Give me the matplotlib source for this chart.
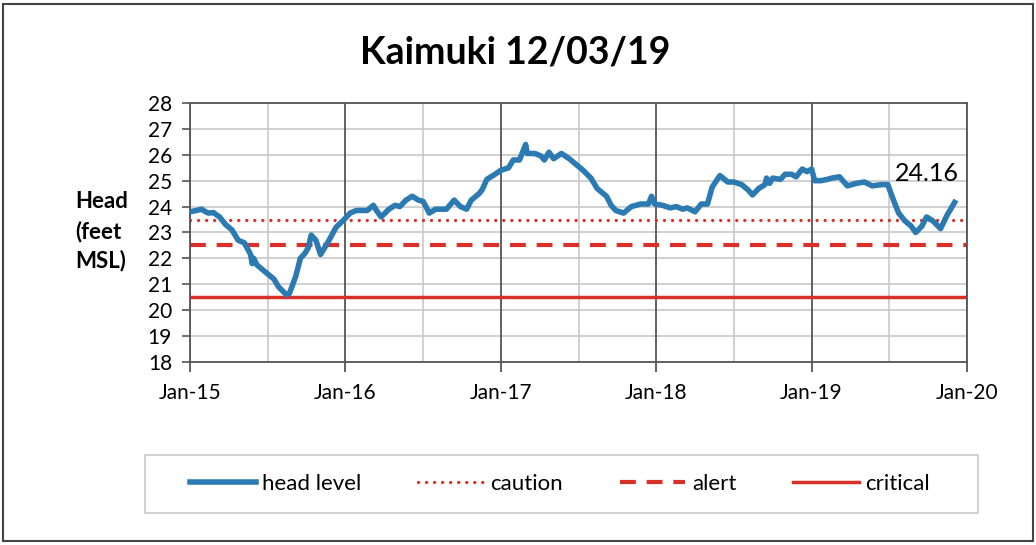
import matplotlib.pyplot as plt
from matplotlib.patches import Rectangle

# head level readings (decimal year, feet MSL)
years = [2015.00, 2015.04, 2015.075, 2015.10, 2015.12, 2015.15, 2015.19, 2015.23, 2015.27, 2015.31,
         2015.35, 2015.39, 2015.40, 2015.41, 2015.43, 2015.47, 2015.52, 2015.54, 2015.57, 2015.62,
         2015.64, 2015.68, 2015.71, 2015.74, 2015.76, 2015.78, 2015.81, 2015.84, 2015.89, 2015.94,
         2016.00, 2016.03, 2016.07, 2016.14, 2016.18, 2016.20, 2016.23, 2016.28, 2016.32, 2016.35,
         2016.39, 2016.43, 2016.47, 2016.50, 2016.54, 2016.58, 2016.65, 2016.70, 2016.74, 2016.78,
         2016.81, 2016.86, 2016.88, 2016.91, 2016.95, 2017.00, 2017.05, 2017.08, 2017.12, 2017.16,
         2017.17, 2017.22, 2017.26, 2017.28, 2017.31, 2017.34, 2017.39, 2017.44, 2017.49, 2017.53,
         2017.58, 2017.62, 2017.68, 2017.71, 2017.74, 2017.79, 2017.84, 2017.90, 2017.95, 2017.97,
         2017.99, 2018.04, 2018.09, 2018.13, 2018.17, 2018.20, 2018.25, 2018.29, 2018.33, 2018.36,
         2018.41, 2018.46, 2018.50, 2018.55, 2018.59, 2018.62, 2018.66, 2018.70, 2018.71, 2018.73,
         2018.75, 2018.80, 2018.83, 2018.87, 2018.90, 2018.94, 2018.97, 2019.00, 2019.02, 2019.06,
         2019.10, 2019.13, 2019.18, 2019.23, 2019.29, 2019.34, 2019.39, 2019.45, 2019.49, 2019.53,
         2019.56, 2019.60, 2019.64, 2019.67, 2019.71, 2019.74, 2019.78, 2019.83, 2019.87, 2019.92]
head = [23.80, 23.85, 23.90, 23.80, 23.75, 23.77, 23.60, 23.30, 23.10, 22.70,
        22.60, 22.15, 21.80, 22.00, 21.75, 21.55, 21.30, 21.20, 20.90, 20.60,
        20.65, 21.30, 22.00, 22.20, 22.40, 22.90, 22.70, 22.15, 22.65, 23.20,
        23.55, 23.75, 23.85, 23.85, 24.05, 23.85, 23.60, 23.90, 24.05, 24.00,
        24.25, 24.40, 24.25, 24.20, 23.75, 23.90, 23.90, 24.25, 24.00, 23.90,
        24.25, 24.50, 24.65, 25.05, 25.20, 25.40, 25.50, 25.80, 25.80, 26.40,
        26.05, 26.05, 25.95, 25.80, 26.10, 25.85, 26.05, 25.85, 25.60, 25.40,
        25.10, 24.70, 24.40, 24.05, 23.85, 23.75, 24.00, 24.10, 24.10, 24.40,
        24.10, 24.05, 23.95, 24.00, 23.90, 23.95, 23.80, 24.10, 24.10, 24.75,
        25.20, 24.95, 24.95, 24.85, 24.65, 24.45, 24.70, 24.85, 25.10, 24.90,
        25.10, 25.05, 25.25, 25.25, 25.15, 25.45, 25.35, 25.45, 25.00, 25.00,
        25.05, 25.10, 25.15, 24.80, 24.90, 24.95, 24.80, 24.85, 24.85, 24.20,
        23.75, 23.45, 23.25, 23.00, 23.25, 23.60, 23.45, 23.15, 23.65, 24.16]

caution = 23.5
alert = 22.5
critical = 20.5

tick_years = [2015, 2016, 2017, 2018, 2019, 2020]
tick_labels = ["Jan-15", "Jan-16", "Jan-17", "Jan-18", "Jan-19", "Jan-20"]
half_years = [2015.5, 2016.5, 2017.5, 2018.5, 2019.5]

plt.rcParams['font.family'] = ['Lato', 'DejaVu Sans']

blue = '#2b7bb2'
red = '#d9302a'

fig = plt.figure(figsize=(10.36, 5.45), dpi=100)
ax = fig.add_axes([0.1834, 0.3358, 0.75, 0.4752])

# grid
for y in range(18, 29):
    ax.axhline(y, color='#c8c8c8', lw=1.2, zorder=0)
for x in half_years:
    ax.axvline(x, color='#c8c8c8', lw=1.2, zorder=0)
for x in tick_years:
    ax.axvline(x, color='#555555', lw=1.3, zorder=0.5)

ax.plot(years, head, color=blue, lw=4, solid_joinstyle='round', zorder=3, label='head level')
ax.axhline(caution, color=red, lw=2.4, linestyle=(0, (0.01, 2.4)), dash_capstyle='round', label='caution', zorder=2)
ax.axhline(alert, color=red, lw=3, linestyle=(0, (3.8, 2.6)), label='alert', zorder=2)
ax.axhline(critical, color=red, lw=2.5, label='critical', zorder=2)

ax.annotate(f"{head[-1]:.2f}", xy=(years[-1], head[-1]), xytext=(-20, 21),
            textcoords='offset points', ha='center', va='center', fontsize=18)

ax.set_xlim(2015, 2020)
ax.set_ylim(18, 28)
ax.set_yticks(range(18, 29))
ax.set_xticks(tick_years)
ax.set_xticklabels(tick_labels)
ax.tick_params(axis='y', length=6, width=1.2, color='#555555', pad=7, labelsize=15)
ax.tick_params(axis='x', length=7, width=1.3, color='#555555', pad=8, labelsize=15)
for s in ax.spines.values():
    s.set_color('#555555')
    s.set_linewidth(1.3)

fig.text(0.497, 0.903, "Kaimuki 12/03/19", ha='center', va='center', fontsize=27, fontweight='bold')
fig.text(0.0724, 0.575, "Head\n(feet\nMSL)", ha='left', va='center', fontsize=16,
         fontweight='bold', linespacing=1.45)

fig.legend(loc='center', bbox_to_anchor=(0.5405, 0.112), ncol=4, frameon=False, fontsize=16,
           handlelength=2.95, handletextpad=0.3, columnspacing=2.55)
fig.patches.append(Rectangle((0.140, 0.0587), 0.804, 0.1063, transform=fig.transFigure,
                             fill=False, edgecolor='#c8c8c8', lw=1.2))
fig.patches.append(Rectangle((0.003, 0.007), 0.994, 0.986, transform=fig.transFigure,
                             fill=False, edgecolor='#444444', lw=1.5))

fig.savefig('out.png', dpi=100)
